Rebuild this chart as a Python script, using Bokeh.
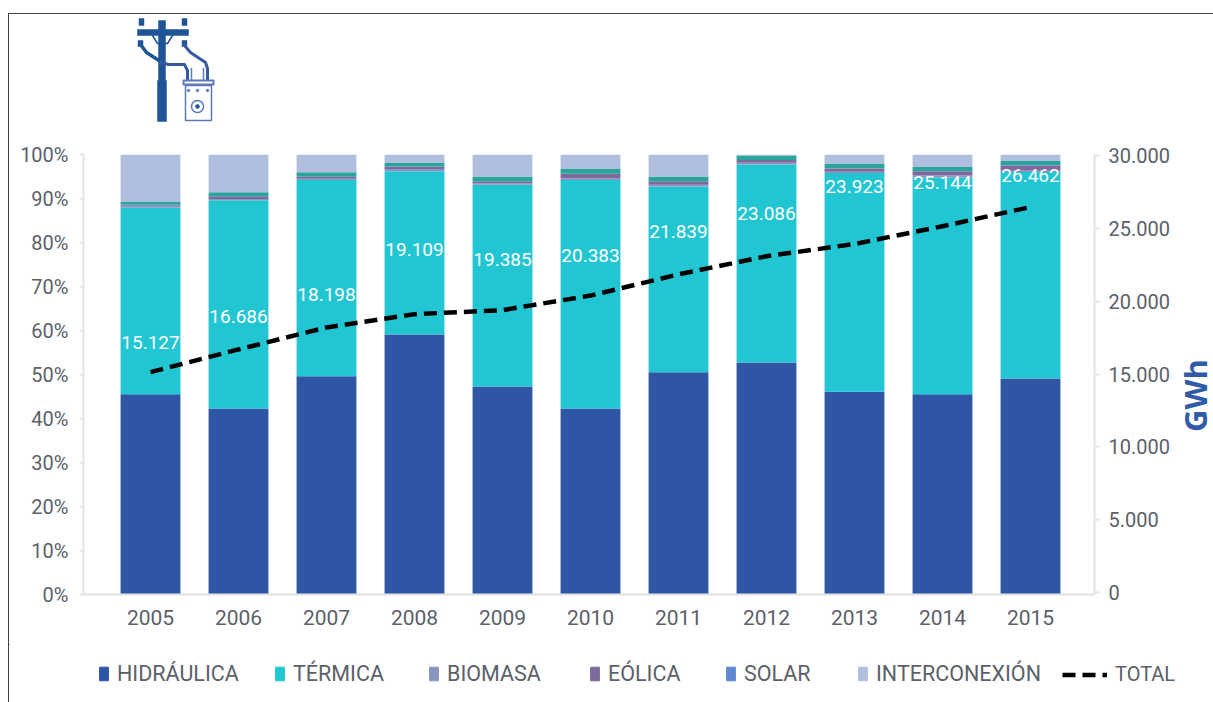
import math
from bokeh.core.properties import value
from bokeh.embed import file_html
from bokeh.layouts import column, row
from bokeh.models import (ColumnDataSource, FixedTicker, Legend, LegendItem, LinearAxis, Range1d)
from bokeh.plotting import figure
from bokeh.resources import INLINE

years = [2005, 2006, 2007, 2008, 2009, 2010, 2011, 2012, 2013, 2014, 2015]
hidraulica = [45.5, 42.3, 49.6, 59.1, 47.3, 42.3, 50.5, 52.7, 46.1, 45.5, 49.1]
termica = [42.4, 47.3, 44.6, 37.1, 45.8, 51.9, 42.2, 45.0, 49.7, 49.3, 46.9]
biomasa = [0.6, 0.3, 0.3, 0.5, 0.3, 0.4, 0.4, 0.4, 0.3, 0.4, 0.5]
eolica = [0.1, 0.6, 0.45, 0.55, 0.5, 1.0, 0.8, 0.65, 0.7, 1.0, 1.0]
solar = [0, 0, 0, 0, 0, 0, 0, 0, 0.05, 0.05, 0.1]
otros = [0.6, 0.9, 1.0, 0.8, 1.1, 1.1, 1.1, 1.0, 1.1, 0.9, 0.9]
interconexion = [10.8, 8.6, 4.05, 1.95, 5.0, 3.3, 5.0, 0.25, 2.05, 2.85, 1.5]
total = [15127, 16686, 18198, 19109, 19385, 20383, 21839, 23086, 23923, 25144, 26462]
total_labels = ["15.127", "16.686", "18.198", "19.109", "19.385", "20.383", "21.839", "23.086",
                "23.923", "25.144", "26.462"]
label_lift = [-30, -33, -33, -65, -51, -40, -43, -43, -58, -44, -32]
pct_ticks = [0, 10, 20, 30, 40, 50, 60, 70, 80, 90, 100]
gwh_ticks = [0, 5000, 10000, 15000, 20000, 25000, 30000]
gwh_tick_labels = ["0", "5.000", "10.000", "15.000", "20.000", "25.000", "30.000"]

FONT = "Roboto"
TXT = "#5b6069"
AXIS = "#e2e3e5"
NAVY = "#1f5596"
ICON2 = "#5f78b8"
stack_names = ["hidraulica", "termica", "biomasa", "eolica", "solar", "otros", "interconexion"]
stack_vals = [hidraulica, termica, biomasa, eolica, solar, otros, interconexion]
stack_cols = ["#2f56a5", "#22c6d2", "#8a94c0", "#7c6a9d", "#5f88cf", "#2aa59c", "#b0bfe0"]
DASH = "13 7"


def pixel_panel(left, right_edge, top, bottom):
    """A bare panel whose data coordinates are the page's own pixels."""
    f = figure(width=right_edge - left, height=bottom - top, output_backend="svg", toolbar_location=None,
               x_range=Range1d(left, right_edge), y_range=Range1d(bottom, top),
               x_axis_type=None, y_axis_type=None, min_border=0, outline_line_color=None,
               frame_align=False)
    f.grid.visible = False
    return f


# ---- icon panel
top_panel = pixel_panel(9, 1213, 14, 134)


def wire(pts, color, width):
    top_panel.line([a for a, _ in pts], [b for _, b in pts], line_color=color, line_width=width,
                   line_cap="round", line_join="round")


def solid(pts, color):
    top_panel.patch([a for a, _ in pts], [b for _, b in pts], fill_color=color, line_color=color, line_width=0.5)


def ring(cx, cy, r, color, width=None):
    pts = [(cx + r * math.cos(i * math.pi / 12), cy + r * math.sin(i * math.pi / 12)) for i in range(25)]
    if width:
        wire(pts, color, width)
    else:
        solid(pts, color)


solid([(158, 20), (165, 20), (165, 80), (166, 80), (166, 121), (157, 121), (157, 80), (158, 80)], NAVY)
solid([(137, 29), (188, 29), (188, 35), (137, 35)], NAVY)
for ix, iy0, iy1 in ((141, 18, 25), (184, 18, 25), (140, 40, 46), (184, 40, 46)):
    solid([(ix - 2.5, iy0), (ix + 2.5, iy0), (ix + 2.5, iy1), (ix - 2.5, iy1)], NAVY)
wire([(152, 35), (157, 43), (167, 43), (172, 35)], NAVY, 1.5)
wire([(140, 44), (146, 52), (160, 61)], NAVY, 3.5)
wire([(160, 62), (168, 64), (184, 64), (187, 70), (187, 79)], "#35589f", 3)
wire([(184, 45), (190, 52), (205, 62), (207, 68), (207, 79)], "#35589f", 3)
wire([(191, 68), (191, 79)], ICON2, 1.5)
wire([(203, 68), (203, 79)], ICON2, 1.5)
wire([(185, 85), (211, 85), (211, 120), (185, 120), (185, 85)], ICON2, 1.5)
wire([(183, 80), (213, 80), (213, 84), (183, 84), (183, 80)], ICON2, 2)
for dx in (188, 197, 207):
    ring(dx, 90, 1.4, ICON2)
ring(197, 106, 6, ICON2, 1.5)
ring(197, 106, 2, NAVY)

# ---- chart panel
p = figure(width=1175 - 9, height=510, output_backend="svg", toolbar_location=None,
           x_range=Range1d(2005 - 67 / 88, 2005 + 944 / 88), y_range=Range1d(0, 100),
           min_border_left=74, min_border_right=81, min_border_top=20, min_border_bottom=50,
           background_fill_color="white", border_fill_color="white", outline_line_color=None,
           frame_align=False)
p.grid.visible = False
p.extra_y_ranges = {"gwh": Range1d(-136, 30068)}

src = ColumnDataSource(dict(x=years, **dict(zip(stack_names, stack_vals))))
bars = p.vbar_stack(stack_names, x="x", width=0.68, color=stack_cols, source=src, line_width=0)

line_src = ColumnDataSource(dict(x=years, y=total, t=total_labels, lift=label_lift))
ln = p.line("x", "y", source=line_src, y_range_name="gwh", line_color="black", line_width=4.5,
            line_dash=DASH)
p.text("x", "y", text="t", source=line_src, y_range_name="gwh", y_offset="lift",
       text_color="white", text_font=value(FONT), text_font_size="19px", text_align="center",
       text_baseline="middle")

ax = p.yaxis[0]
ax.ticker = FixedTicker(ticks=pct_ticks)
ax.major_label_overrides = {t: f"{t}%" for t in pct_ticks}
ax.major_tick_in = 0
ax.major_tick_out = 4
ax.minor_tick_line_color = None
ax.major_label_standoff = 11
right = LinearAxis(y_range_name="gwh", ticker=FixedTicker(ticks=gwh_ticks),
                   major_label_overrides=dict(zip(gwh_ticks, gwh_tick_labels)))
right.major_tick_in = 0
right.major_tick_out = 5
right.minor_tick_line_color = None
right.major_label_standoff = 9
p.add_layout(right, "right")
bx = p.xaxis[0]
bx.ticker = FixedTicker(ticks=years)
bx.major_label_overrides = {y: str(y) for y in years}
bx.minor_tick_line_color = None
bx.major_label_standoff = 9
for a, size in ((ax, "20px"), (right, "20px"), (bx, "21px")):
    a.axis_line_color = AXIS
    a.axis_line_width = 2
    a.major_tick_line_color = AXIS if a is not bx else None
    a.major_tick_line_width = 2
    a.major_label_text_font = FONT
    a.major_label_text_font_size = size
    a.major_label_text_color = TXT

# ---- axis title panel, at the chart's right
unit_panel = pixel_panel(1175, 1213, 134, 644)
unit_panel.text([1194], [395], text=["GWh"], angle=math.pi / 2, text_font=value("Open Sans"),
                text_font_size="31px", text_font_style="bold", text_color="#2f5ba8",
                text_align="center", text_baseline="middle")

# ---- legend panel: one box per entry, spaced as in the picture
leg = pixel_panel(9, 1213, 644, 702)
legend_names = ["HIDRÁULICA", "TÉRMICA", "BIOMASA", "EÓLICA", "SOLAR", "INTERCONEXIÓN"]
legend_cols = [stack_cols[0], stack_cols[1], stack_cols[2], stack_cols[3], stack_cols[4], stack_cols[6]]
legend_x = [98, 274, 428, 589, 725, 857]


def add_entry(name, r, px, gw, size="21.5px"):
    leg.add_layout(Legend(items=[LegendItem(label=name, renderers=[r])], location=(px - 9, 16),
                          orientation="horizontal", padding=0, margin=0, spacing=0,
                          border_line_color=None, background_fill_alpha=0, glyph_width=gw, glyph_height=17,
                          label_height=17, label_standoff=8, label_text_font=FONT, label_text_font_size=size,
                          label_text_color=TXT, label_text_baseline="middle"), "center")


for name, col, px in zip(legend_names, legend_cols, legend_x):
    add_entry(name, leg.vbar(x=[0], top=[0], width=1, color=col), px, 11)
add_entry("TOTAL", leg.line(x=[0, 0], y=[0, 0], line_color="black", line_width=4.5, line_dash=DASH), 1062, 45, "20px")

page = column(top_panel, row(p, unit_panel, spacing=0), leg, spacing=0, margin=(13, 0, 0, 8),
              styles={"border-top": "1px solid #444444", "border-left": "1px solid #444444"})
open("out.html", "w").write(file_html(page, INLINE))
